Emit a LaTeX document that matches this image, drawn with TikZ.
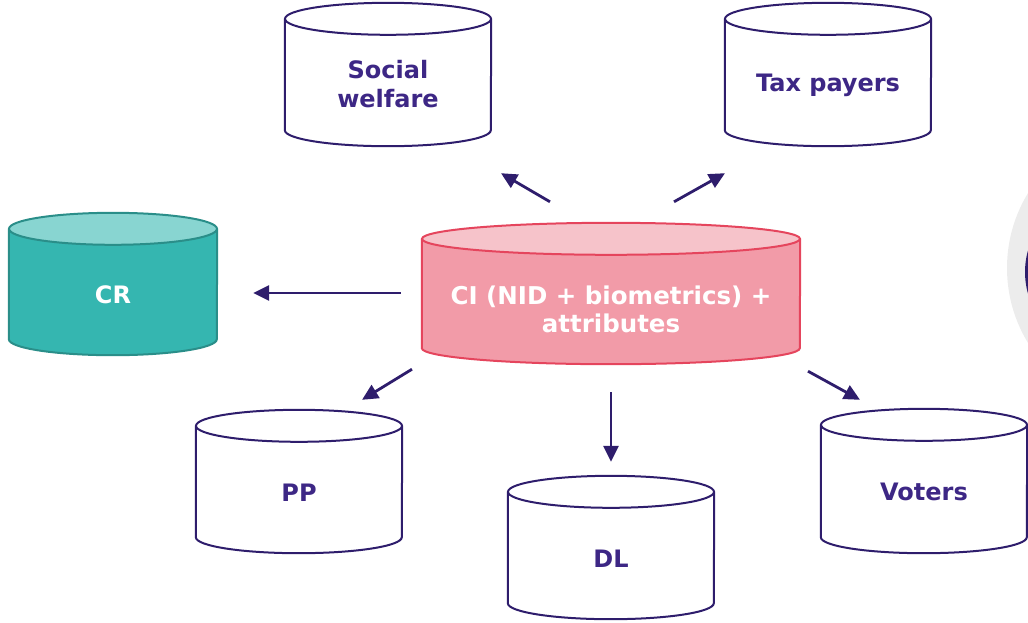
\documentclass[tikz,border=0pt]{standalone}
\usepackage{fontspec}
\setmainfont{DejaVu Sans}
\usepackage{xcolor}
\usetikzlibrary{arrows.meta}
\definecolor{ink}{HTML}{2E1D6C}
\definecolor{labelc}{HTML}{3D2785}
\definecolor{crbody}{HTML}{35B6B0}
\definecolor{crtop}{HTML}{88D5D1}
\definecolor{crline}{HTML}{2A8E89}
\definecolor{cibody}{HTML}{F29BA8}
\definecolor{citop}{HTML}{F6C3CA}
\definecolor{ciline}{HTML}{E5455D}
\tikzstyle{store}=[rectangle, inner sep=0pt, minimum width=206pt, minimum height=127pt,
  align=center, text=labelc, font=\fontsize{24}{29}\selectfont\bfseries]
\tikzstyle{tag}=[store, minimum size=0pt, yshift=-3pt]
\tikzstyle{link}=[ink, line width=2.8pt, -{Triangle[length=16pt, width=15pt]}]
% drum around a store node: name, width, body, top, line
\newcommand{\drum}[5]{
  \fill[#3] (#1.north west) -- ([yshift=16pt]#1.south west)
    arc[start angle=180, end angle=360, x radius=0.5*#2pt, y radius=16pt] -- (#1.north east) -- cycle;
  \draw[#5, line width=2pt] (#1.north west) -- ([yshift=16pt]#1.south west)
    arc[start angle=180, end angle=360, x radius=0.5*#2pt, y radius=16pt] -- (#1.north east);
  \filldraw[fill=#4, draw=#5, line width=2pt] (#1.north) ellipse[x radius=0.5*#2pt, y radius=16pt];
}

\begin{document}
\begin{tikzpicture}[x=1pt, y=-1pt]
        \useasboundingbox (0,0) rectangle (1028,622);
        % cut-off badge at the right edge
        \begin{scope}
            \clip (0,0) rectangle (1028,622);
            \fill[gray!15] (1151,268) circle (144);
            \draw[ink, line width=4pt] (1104,272) circle (77);
        \end{scope}
        \node[store] (social) at (388,82.5) {};
        \node[store] (tax) at (828,82.5) {};
        \node[store, minimum width=208pt, minimum height=126pt] (cr) at (113,292) {};
        \node[store, minimum width=378pt, minimum height=125pt] (ci) at (611,301.5) {};
        \node[store] (pp) at (299,489.5) {};
        \node[store] (dl) at (611,555.5) {};
        \node[store, minimum height=128pt] (voters) at (924,489) {};
        \drum{social}{206}{white}{white}{ink}
        \drum{tax}{206}{white}{white}{ink}
        \drum{cr}{208}{crbody}{crtop}{crline}
        \drum{ci}{378}{cibody}{citop}{ciline}
        \drum{pp}{206}{white}{white}{ink}
        \drum{dl}{206}{white}{white}{ink}
        \drum{voters}{206}{white}{white}{ink}
        % labels
        \node[tag, yshift=1pt] at (social) {Social\\welfare};
        \node[tag] at (tax) {Tax payers};
        \node[tag, text=white] at (cr) {CR};
        \node[tag, text=white, font=\fontsize{24.5}{28}\selectfont\bfseries]
              at ([yshift=-5pt]ci.center) {CI (NID + biometrics) +\\attributes};
        \node[tag] at (pp) {PP};
        \node[tag] at (dl) {DL};
        \node[tag] at (voters) {Voters};
        % arrows
        \draw[link] ([xshift=-61pt, yshift=37pt]ci.north) -- ([xshift=113pt, yshift=-27pt]social.south);
        \draw[link] ([xshift=63pt, yshift=37pt]ci.north) -- ([xshift=-103pt, yshift=-27pt]tax.south);
        \draw[link] ([xshift=-21pt, yshift=8.5pt]ci.west) -- ([xshift=36pt, yshift=-1pt]cr.east);
        \draw[link] ([xshift=-199pt, yshift=-5pt]ci.south) -- ([xshift=63pt, yshift=26pt]pp.north);
        \draw[link] ([yshift=-28pt]ci.south) -- ([yshift=30pt]dl.north);
        \draw[link] ([xshift=197pt, yshift=-7pt]ci.south) -- ([xshift=-64pt, yshift=25pt]voters.north);
    \end{tikzpicture}
\end{document}
